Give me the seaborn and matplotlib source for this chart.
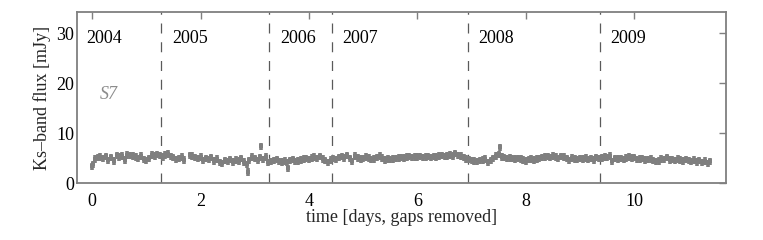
import numpy as np
import pandas as pd
import matplotlib
matplotlib.use("Agg")
import matplotlib.pyplot as plt
import seaborn as sns

# ---- data ----
time = [0.00, 0.02, 0.06, 0.10, 0.15, 0.20, 0.25, 0.30, 0.35, 0.40, 0.45, 0.50, 0.55, 0.60,
        0.65, 0.70, 0.75, 0.80, 0.85, 0.90, 0.95, 1.00, 1.05, 1.10, 1.15, 1.20, 1.25,
        1.30, 1.35, 1.40, 1.45, 1.50, 1.55, 1.60, 1.65, 1.70, 1.80, 1.85, 1.90, 1.95, 2.00,
        2.05, 2.10, 2.15, 2.20, 2.25, 2.30, 2.35, 2.40, 2.45, 2.50, 2.55, 2.60, 2.65, 2.70,
        2.75, 2.80, 2.85, 2.87, 2.90, 2.95, 3.00, 3.05, 3.10, 3.11, 3.15, 3.20, 3.25,
        3.30, 3.35, 3.40, 3.45, 3.50, 3.55, 3.60, 3.62, 3.65, 3.70, 3.75, 3.80, 3.85, 3.90,
        3.95, 4.00, 4.05, 4.10, 4.15, 4.20, 4.25, 4.30, 4.35, 4.40,
        4.45, 4.50, 4.55, 4.60, 4.65, 4.70, 4.75, 4.80, 4.85, 4.90, 4.95, 5.00, 5.05, 5.10,
        5.15, 5.20, 5.25, 5.30, 5.35, 5.40, 5.45, 5.50, 5.55, 5.60, 5.65, 5.70, 5.75, 5.80,
        5.85, 5.90, 5.95, 6.00, 6.05, 6.10, 6.15, 6.20, 6.25, 6.30, 6.35, 6.40, 6.45, 6.50,
        6.55, 6.60, 6.65, 6.70, 6.75, 6.80, 6.85, 6.90,
        6.95, 7.00, 7.05, 7.10, 7.15, 7.20, 7.25, 7.30, 7.35, 7.40, 7.45, 7.50, 7.52, 7.55,
        7.60, 7.65, 7.70, 7.75, 7.80, 7.85, 7.90, 7.95, 8.00, 8.05, 8.10, 8.15, 8.20, 8.25,
        8.30, 8.35, 8.40, 8.45, 8.50, 8.55, 8.60, 8.65, 8.70, 8.75, 8.80, 8.85, 8.90, 8.95,
        9.00, 9.05, 9.10, 9.15, 9.20, 9.25, 9.30, 9.35,
        9.40, 9.45, 9.50, 9.55, 9.58, 9.65, 9.70, 9.75, 9.80, 9.85, 9.90, 9.95, 10.00, 10.05,
        10.10, 10.15, 10.20, 10.25, 10.30, 10.35, 10.40, 10.45, 10.50, 10.55, 10.60, 10.65,
        10.70, 10.75, 10.80, 10.85, 10.90, 10.95, 11.00, 11.05, 11.10, 11.15, 11.20, 11.25,
        11.30, 11.35, 11.40]
flux = [3.4, 3.8, 4.9, 5.2, 5.3, 5.0, 5.4, 4.6, 5.2, 4.5, 5.6, 5.3, 5.5, 4.7,
        5.7, 5.6, 5.5, 5.3, 5.0, 5.5, 4.8, 4.6, 5.0, 5.7, 5.5, 5.8, 5.6,
        5.3, 5.7, 5.9, 5.4, 5.2, 4.8, 5.0, 5.3, 4.7, 5.6, 5.5, 5.2, 5.0, 5.3,
        4.6, 5.0, 4.8, 5.2, 4.5, 4.9, 4.2, 4.0, 4.6, 4.4, 4.8, 4.3, 4.7, 4.5,
        5.0, 4.3, 3.8, 2.3, 4.6, 5.3, 5.0, 4.6, 5.2, 7.4, 4.8, 5.3, 4.2,
        4.4, 4.6, 4.8, 4.4, 4.3, 4.5, 4.2, 3.0, 4.6, 4.8, 4.4, 4.5, 4.7, 4.9,
        5.0, 4.8, 5.1, 5.3, 5.0, 5.4, 4.9, 4.6, 4.2, 4.7,
        5.0, 4.8, 5.2, 5.4, 5.1, 5.6, 5.0, 4.4, 5.5, 5.1, 4.9, 5.0, 5.3, 5.1,
        4.8, 4.9, 5.2, 5.5, 5.1, 4.7, 4.9, 4.8, 4.9, 5.0, 5.1, 5.2, 5.1, 5.3,
        5.4, 5.2, 5.3, 5.3, 5.4, 5.2, 5.3, 5.4, 5.2, 5.4, 5.3, 5.5, 5.6, 5.4,
        5.5, 5.7, 5.5, 6.0, 5.6, 5.5, 5.2, 4.9,
        4.8, 4.6, 4.5, 4.4, 4.6, 4.7, 4.9, 4.2, 4.6, 5.0, 5.5, 5.8, 7.2, 5.3,
        5.2, 5.0, 5.1, 5.0, 4.9, 5.0, 4.9, 4.7, 4.5, 4.8, 4.9, 4.7, 4.9, 5.0,
        5.2, 5.3, 5.4, 5.2, 5.5, 5.3, 5.0, 5.4, 5.3, 5.0, 4.6, 5.1, 4.9, 4.8,
        5.0, 4.9, 5.1, 4.8, 5.0, 4.7, 5.2, 5.0,
        5.1, 5.3, 5.2, 5.5, 4.4, 5.0, 4.9, 5.0, 4.8, 5.1, 5.3, 5.1, 5.2, 4.8,
        4.9, 5.0, 4.7, 4.8, 4.9, 4.6, 4.4, 4.5, 4.9, 4.8, 5.2, 4.7,
        4.8, 4.6, 4.9, 4.7, 4.5, 4.8, 4.6, 4.4, 4.7, 4.3, 4.6, 4.2,
        4.5, 4.0, 4.4]
year_bounds = [1.27, 3.27, 4.42, 6.93, 9.37]
year_labels = ["2004", "2005", "2006", "2007", "2008", "2009"]
year_label_x = [-0.10, 1.48, 3.46, 4.62, 7.12, 9.55]
source_name = "S7"

df = pd.DataFrame({"time": time, "flux": flux})

sns.set_theme(style="white")
plt.rcParams["font.family"] = ["Liberation Serif", "DejaVu Serif"]

fig = plt.figure(figsize=(7.63, 2.40), dpi=100)
ax = fig.add_axes([0.1009, 0.236, 0.8506, 0.714])

grey = "#7f7f7f"
ax.errorbar(df["time"], df["flux"], yerr=0.75, fmt="none", ecolor=grey,
            elinewidth=2.6, capsize=0, zorder=2)
sns.scatterplot(data=df, x="time", y="flux", ax=ax, color=grey, marker="s",
                s=7, linewidth=0, zorder=3, legend=False)

for xb in year_bounds:
    ax.axvline(xb, color="#5a5a5a", lw=0.9, ls=(0, (8, 7)), zorder=1)

for xl, lab in zip(year_label_x, year_labels):
    ax.text(xl, 28.9, lab, fontsize=13, ha="left", va="center", color="black")

ax.text(0.14, 17.7, source_name, fontsize=13, style="italic", color="#8c8c8c",
        ha="left", va="center")

ax.set_xlim(-0.28, 11.69)
ax.set_ylim(0, 34.3)
ax.set_xticks([0, 2, 4, 6, 8, 10])
ax.set_yticks([0, 10, 20, 30])
ax.set_xlabel("time [days, gaps removed]", fontsize=13, labelpad=-1)
ax.set_ylabel("Ks–band flux [mJy]", fontsize=13, labelpad=4)

for s in ax.spines.values():
    s.set_color(grey)
    s.set_linewidth(1.3)
ax.tick_params(direction="in", length=5, width=1, color=grey, top=True, right=True,
               labelsize=13, pad=2, labelcolor="black")
ax.tick_params(axis="x", pad=7)

fig.savefig("out.png", dpi=100)
